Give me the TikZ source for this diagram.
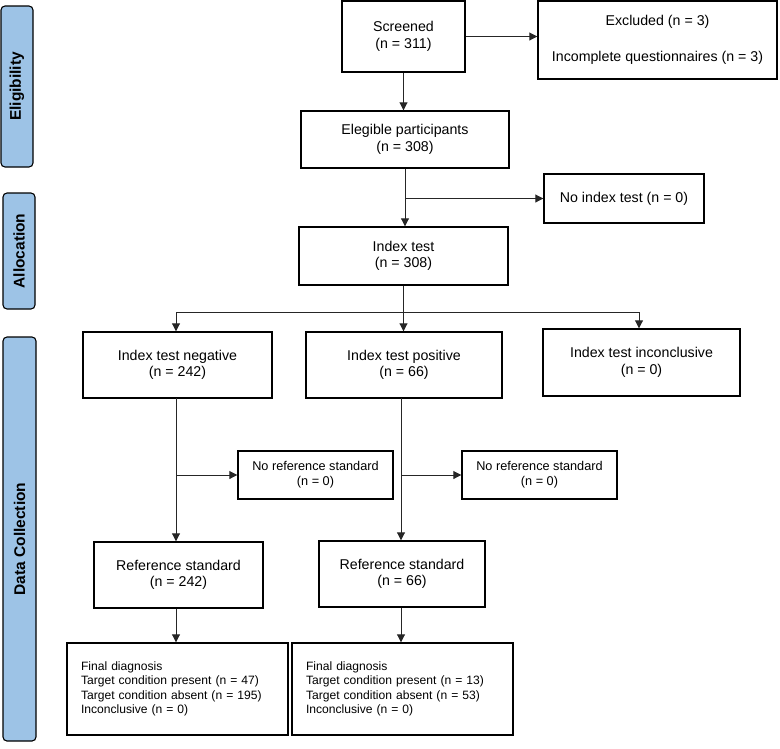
\documentclass[tikz,border=0pt]{standalone}
\usepackage{fontspec}
\setmainfont{Liberation Sans}
\usetikzlibrary{arrows.meta}
\definecolor{barblue}{HTML}{9DC3E6}
\begin{document}
\begin{tikzpicture}[x=1pt,y=-1pt,
  box/.style={draw=black,line width=1.4pt,align=center,inner sep=2pt,
    font=\fontsize{14.2}{16.5}\selectfont},
  small/.style={draw=black,line width=1.4pt,align=center,inner sep=2pt,
    font=\fontsize{12.7}{15}\selectfont},
  final/.style={draw=black,line width=1.4pt,align=left,inner xsep=14pt,inner ysep=2pt,
    text width=193pt,minimum height=92pt,font=\fontsize{12.1}{14.4}\selectfont},
  bar/.style={draw=black,line width=1.1pt,fill=barblue,rounded corners=4pt,rotate=90,
    font=\bfseries\fontsize{15.5}{17}\selectfont},
  conn/.style={draw=black!85,line width=0.9pt},
  arr/.style={conn,-{Triangle[length=8pt,width=8pt]}}]
\useasboundingbox (0,0) rectangle (780,748);

% side bars
\node[bar,minimum width=161pt,minimum height=32pt] (bel) at (17,86.5) {Eligibility};
\node[bar,minimum width=116pt,minimum height=32pt] (bal) at (19,251) {Allocation};
\node[bar,minimum width=404pt,minimum height=33pt] (bdc) at (19.5,539) {Data Collection};

% boxes
\node[box,minimum width=123pt,minimum height=71pt] (scr) at (403.5,36.5) {Screened\\(n = 311)};
\node[box,minimum width=239pt,minimum height=78pt,font=\fontsize{14.2}{36}\selectfont] (exc) at (657.5,40) {Excluded (n = 3)\\Incomplete questionnaires (n = 3)};
\node[box,minimum width=208pt,minimum height=57pt] (eleg) at (405,139.5) {Elegible participants\\(n = 308)};
\node[box,minimum width=160pt,minimum height=49pt] (noidx) at (624,198.5) {No index test (n = 0)};
\node[box,minimum width=209pt,minimum height=58pt] (idx) at (403.5,256) {Index test\\(n = 308)};
\node[box,minimum width=189pt,minimum height=66pt] (neg) at (177.5,365) {Index test negative\\(n = 242)};
\node[box,minimum width=196pt,minimum height=66pt] (pos) at (404,365) {Index test positive\\(n = 66)};
\node[box,minimum width=197pt,minimum height=67pt] (inc) at (641.5,362.5) {Index test inconclusive\\(n = 0)};
\node[small,minimum width=155pt,minimum height=48pt] (nr1) at (315.5,475) {No reference standard\\(n = 0)};
\node[small,minimum width=155pt,minimum height=48pt] (nr2) at (539.5,475) {No reference standard\\(n = 0)};
\node[box,minimum width=169pt,minimum height=66pt] (ref1) at (178.5,575) {Reference standard\\(n = 242)};
\node[box,minimum width=166pt,minimum height=66pt] (ref2) at (402,574) {Reference standard\\(n = 66)};
\node[final] (fin1) at (177.5,689) {Final diagnosis\\Target condition present (n = 47)\\Target condition absent (n = 195)\\Inconclusive (n = 0)};
\node[final] (fin2) at (402.5,689) {Final diagnosis\\Target condition present (n = 13)\\Target condition absent (n = 53)\\Inconclusive (n = 0)};

% connectors
\draw[arr] (scr.east) -- (scr.east -| exc.west);
\draw[arr] (scr.south) -- (scr.south |- eleg.north);
\coordinate (j1) at (eleg.south |- noidx.west);
\draw[arr] (eleg.south) -- (eleg.south |- idx.north);
\draw[arr] (j1) -- (noidx.west);
\coordinate (brL) at (176,312);
\coordinate (brR) at (639,312);
\draw[conn] (idx.south) -- (idx.south |- brL);
\draw[conn] (brL) -- (brR);
\draw[arr] (brL) -- (brL |- neg.north);
\draw[arr] (idx.south |- brL) -- (idx.south |- pos.north);
\draw[arr] (brR) -- (brR |- inc.north);
\coordinate (n1) at (176,398);
\draw[arr] (n1) -- (n1 |- ref1.north);
\draw[arr] (n1 |- nr1.west) -- (nr1.west);
\coordinate (p1) at (401,398);
\draw[arr] (p1) -- (p1 |- ref2.north);
\draw[arr] (p1 |- nr2.west) -- (nr2.west);
\draw[arr] (ref1.south -| n1) -- (n1 |- fin1.north);
\draw[arr] (ref2.south -| p1) -- (p1 |- fin2.north);
\end{tikzpicture}
\end{document}
